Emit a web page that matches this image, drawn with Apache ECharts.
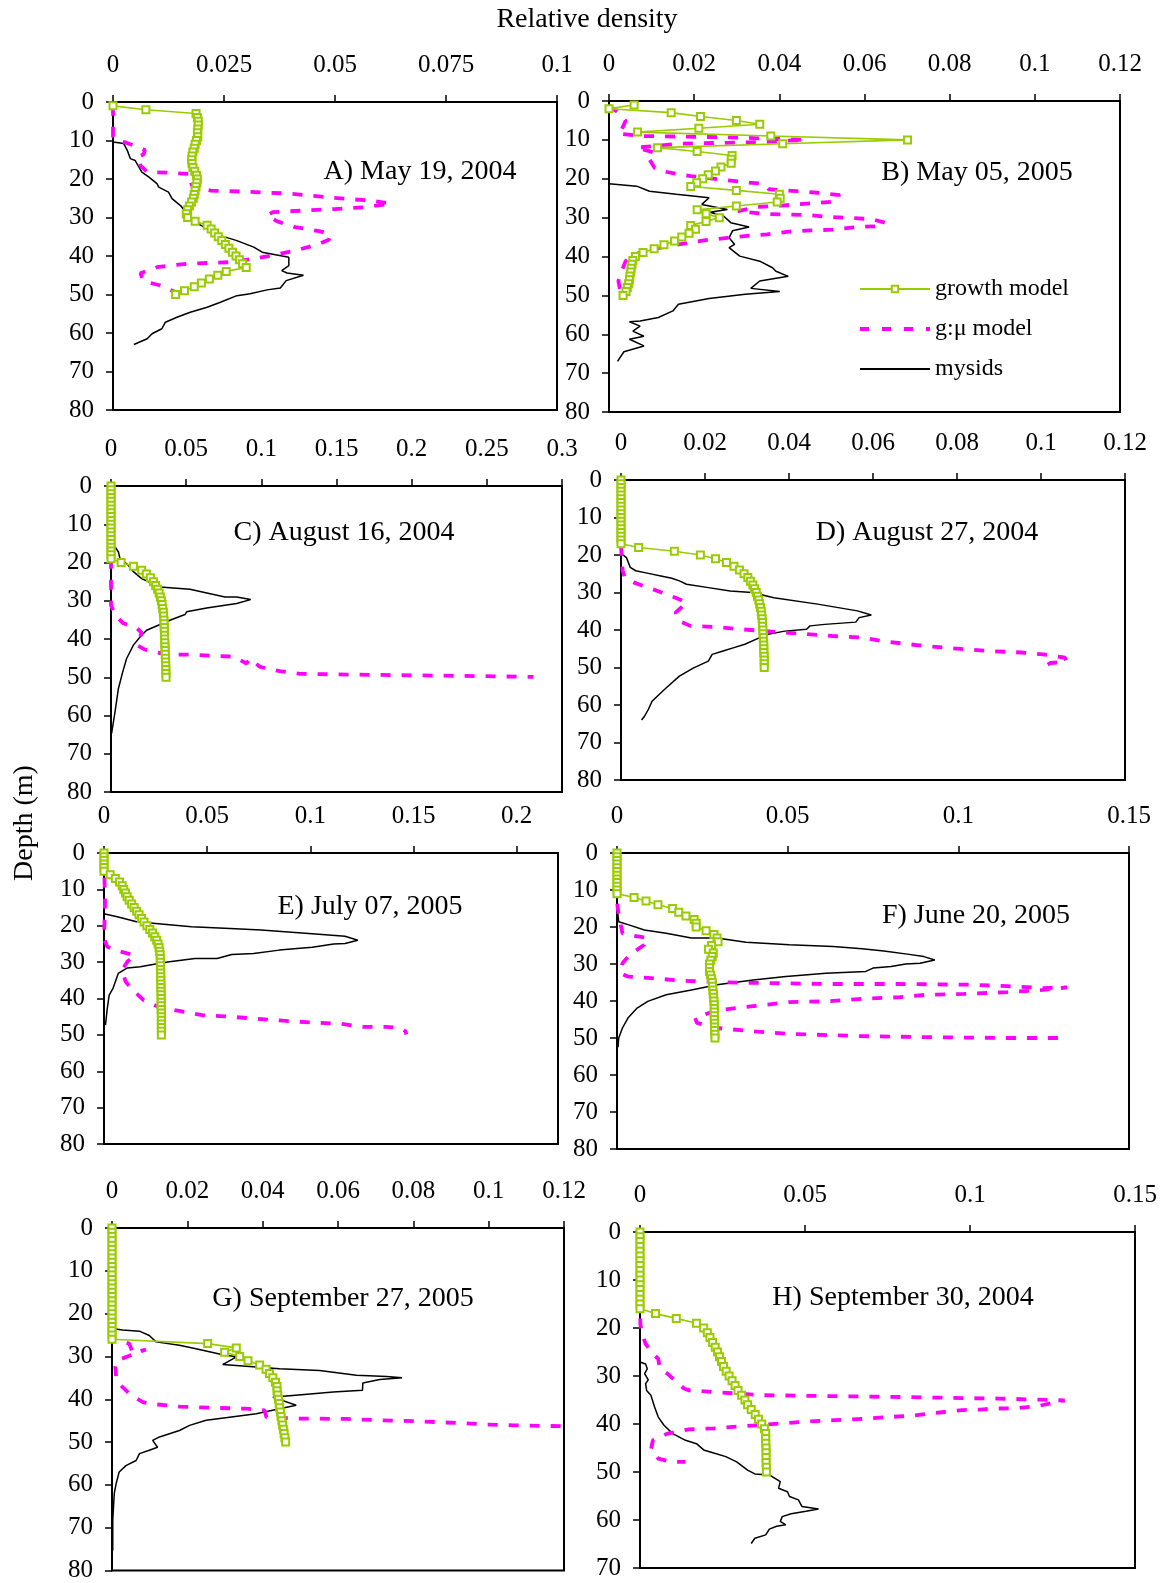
<!DOCTYPE html>
<html>
<head>
<meta charset="utf-8">
<script src="https://cdn.jsdelivr.net/npm/echarts@6/dist/echarts.min.js"></script>
<style>
  html, body { margin: 0; padding: 0; background: #fff; }
  #chart { width: 1165px; height: 1583px; }
</style>
</head>
<body>
<div id="chart"></div>
<script>
// depths (m) of the growth model points
const depth1to50 = [1,2,3,4,5,6,7,8,9,10,11,12,13,14,15,16,17,18,19,20,21,22,23,24,25,26,27,28,29,30,31,32,33,34,35,36,37,38,39,40,41,42,43,44,45,46,47,48,49,50];
const depth0to50 = [0,1,2,3,4,5,6,7,8,9,10,11,12,13,14,15,16,17,18,19,20,21,22,23,24,25,26,27,28,29,30,31,32,33,34,35,36,37,38,39,40,41,42,43,44,45,46,47,48,49,50];

// growth model, relative density per depth
const growthA = [0,.0074,.0187,.019,.0192,.0192,.0191,.019,.0191,.0188,
  .0185,.0183,.018,.0178,.0177,.0178,.018,.0184,.0188,.019,
  .0189,.0187,.0185,.0183,.0181,.0177,.0172,.0168,.0165,.0168,
  .0185,.0212,.0221,.0229,.0237,.0245,.0253,.0261,.0269,.0277,
  .0285,.0292,.030,.0255,.0236,.0217,.0199,.0183,.0161,.0141];
const growthB = [.0059,0,.0146,.0215,.0299,.0354,.0211,.0067,.038,.0701,
  .0408,.0114,.0207,.0289,.0287,.0287,.0263,.025,.0233,.022,
  .0206,.0192,.0299,.04,.0402,.0395,.0299,.0207,.0228,.0259,
  .0228,.0192,.0203,.0188,.0171,.0154,.0129,.0106,.008,.0062,
  .0056,.0054,.0052,.0051,.0049,.0048,.0046,.0043,.004,.0033];
const growthC = [0,0,0,0,0,0,0,0,0,0, 0,0,0,0,0,0,0,0,0,0,
  .0067,.0149,.0204,.0235,.0262,.0282,.0297,.031,.032,.0328,
  .0335,.034,.0344,.0348,.035,.0352,.0353,.0354,.0355,.0356,
  .0357,.0358,.0359,.036,.0361,.0362,.0363,.0364,.0365,.0365, .0366];
const growthD = [0,0,0,0,0,0,0,0,0,0, 0,0,0,0,0,0,0,0,.0042,.0127,
  .0189,.0225,.0251,.0269,.0282,.0293,.0302,.0308,.0314,.0318,
  .0322,.0325,.0328,.033,.0332,.0334,.0335,.0336,.0337,.0337,
  .0338,.0338,.0339,.0339,.034,.034,.034,.0341,.0341,.0341, .0341];
const growthE = [0,0,0,0,0,0,.003,.0055,.0075,.0088,
  .0096,.0104,.0112,.0122,.0134,.0146,.0158,.017,.0182,.0194,
  .0208,.0222,.0235,.0246,.0255,.0262,.0267,.027,.0272,.0273,
  .0273,.0274,.0274,.0275,.0275,.0275,.0276,.0276,.0276,.0277,
  .0277,.0277,.0277,.0277,.0278,.0278,.0278,.0278,.0278,.0278, .0278];
const growthF = [0,0,0,0,0,0,0,0,0,0,
  0,0,.005,.0085,.012,.0163,.0181,.0202,.0226,.0232,
  .0232,.0261,.0284,.0293,.0296,.0277,.0268,.0282,.0279,.0275,
  .0271,.0271,.0271,.0274,.0277,.0279,.028,.0281,.0282,.0283,
  .0284,.0285,.0285,.0285,.0285,.0285,.0286,.0286,.0286,.0287, .0287];
const growthG = [0,0,0,0,0,0,0,0,0,0, 0,0,0,0,0,0,0,0,0,0,
  0,0,0,0,0,0,0,.0254,.033,.0299,
  .0339,.0361,.0392,.0409,.0418,.0427,.0434,.0438,.0438,.044,
  .0442,.0444,.0445,.0447,.0449,.0451,.0453,.0455,.0457,.0459, .0461];
const growthH = [0,0,0,0,0,0,0,0,0,0,
  0,0,0,0,0,0,0,.0047,.011,.0171,
  .0193,.0204,.0212,.022,.0228,.0235,.0241,.0247,.0253,.0261,
  .027,.0279,.0288,.0297,.0308,.0318,.0326,.0337,.0349,.0359,
  .0369,.0377,.0381,.0381,.0381,.0382,.0382,.0382,.0382,.0383, .0383];

// g:mu model, [relative density, depth]
const gmuA = [[0,1],[0,5],[0,9],[0.0015,10],[0.0045,11.2],[0.0072,12.5],[0.0069,13.6],[0.0055,14.4],[0.0062,16.5],[0.0077,18.2],[0.013,18.4],[0.0174,18.7],[0.0174,20.5],[0.018,22.2],[0.022,23],[0.03,23.3],[0.04,23.8],[0.047,24.6],[0.053,25.2],[0.058,25.6],[0.0625,26.4],[0.057,27.3],[0.05,27.8],[0.043,28.2],[0.036,28.6],[0.0347,29.5],[0.037,31],[0.041,32.5],[0.0467,33.6],[0.049,34.4],[0.0486,35.8],[0.046,37],[0.0414,38.5],[0.0377,39.4],[0.0324,40.6],[0.0264,41.6],[0.0167,42],[0.0099,42.9],[0.0062,44.5],[0.0068,46.5],[0.0105,47.6],[0.0143,49.5]];
const gmuB = [[0,1.3],[0.0022,3],[0.0039,5.1],[0.003,7.3],[0.0022,8.4],[0.0073,9],[0.02,9.2],[0.03,9.4],[0.0354,9.6],[0.046,10],[0.035,10.6],[0.025,10.8],[0.0167,11],[0.0065,12],[0.0107,13.3],[0.0095,15],[0.0107,17.2],[0.0133,18.2],[0.0167,18.9],[0.0192,19.3],[0.0278,20.4],[0.0329,21],[0.0363,21.3],[0.0375,22.7],[0.044,23.2],[0.049,23.6],[0.0542,24.2],[0.0525,25.9],[0.0465,26.4],[0.0405,26.9],[0.0354,27.2],[0.0303,28.3],[0.0359,29],[0.0405,29.2],[0.0465,29.3],[0.0516,29.8],[0.0618,30.4],[0.0648,31.3],[0.0635,32.2],[0.0584,32.4],[0.0525,33.1],[0.0474,33.3],[0.0422,33.6],[0.0371,34.3],[0.0324,34.7],[0.0278,35.2],[0.0227,35.8],[0.0192,36.4],[0.0141,37.3],[0.0107,38],[0.0082,38.6],[0.006,39.5],[0.0039,41.2],[0.003,43.7],[0.0022,46.3],[0.0026,48.5],[0.003,49.7]];
const gmuC = [[0,19],[0,31.2],[0.0027,33.8],[0.0082,35.9],[0.0171,37.1],[0.0204,38.4],[0.0171,41.6],[0.0226,42.8],[0.037,44.1],[0.0525,44.1],[0.068,44.4],[0.0814,44.6],[0.0902,46.4],[0.0925,45.1],[0.0991,47.3],[0.1124,48.4],[0.1257,49.1],[0.1568,49.3],[0.2011,49.5],[0.2455,49.7],[0.281,49.9]];
const gmuD = [[0,17.5],[0.0004,24.2],[0.0009,26],[0.003,27.3],[0.0052,28.2],[0.0087,29.6],[0.013,31.4],[0.0156,32.7],[0.013,35.4],[0.0139,37.6],[0.0165,38.9],[0.0225,39.2],[0.0286,39.8],[0.0355,40.4],[0.0433,41],[0.0503,41.6],[0.0572,42],[0.0632,43.1],[0.0702,44],[0.0788,44.9],[0.0875,45.6],[0.0953,46],[0.1005,46.5],[0.1057,47.4],[0.1061,48.5],[0.1022,48.8],[0.1005,50]];
const gmuE = [[0,1],[0.0005,13.5],[0,23.5],[0.0016,25.8],[0.006,26.8],[0.0149,28.1],[0.0113,29.9],[0.0087,32.2],[0.0105,35.4],[0.014,37.7],[0.0193,40.5],[0.0264,42.3],[0.0371,43.5],[0.0477,44.6],[0.0583,44.9],[0.0725,45.5],[0.0867,46.1],[0.1009,46.6],[0.1151,47],[0.1257,47.8],[0.1363,47.8],[0.1434,48],[0.1461,49],[0.1465,49.9]];
const gmuF = [[0,2.4],[0,13.2],[0.0005,16.8],[0.0011,19.5],[0.0016,21.7],[0.0027,22],[0.009,23],[0.008,24.8],[0.0037,27.5],[0.0016,29.8],[0.0011,32.5],[0.0032,33.4],[0.0101,33.8],[0.0186,34.5],[0.0293,34.9],[0.0399,35.1],[0.0612,35.4],[0.0824,35.4],[0.1037,35.6],[0.1144,36],[0.125,36.5],[0.1319,36.3],[0.125,37],[0.1144,37.6],[0.1016,38.1],[0.091,38.3],[0.0824,39],[0.0718,39.4],[0.0612,40.1],[0.0505,40.3],[0.0399,41.4],[0.0314,42.3],[0.0271,43.2],[0.0229,44.6],[0.0234,45.9],[0.0293,47.3],[0.0399,48.2],[0.0505,48.9],[0.0718,49.5],[0.0931,49.8],[0.1144,50],[0.1293,50]];
const gmuG = [[0,0],[0,25.9],[0.0046,27],[0.0055,29.2],[0.009,28.4],[0.0015,30.9],[0.0009,32.5],[0.0011,34.8],[0.0019,36.4],[0.0046,38.7],[0.0082,40.7],[0.0117,41.2],[0.0179,41.7],[0.0268,42],[0.0356,42.2],[0.0405,42.6],[0.041,44.2],[0.0489,44.5],[0.0622,44.6],[0.0711,44.9],[0.08,45.1],[0.0932,45.6],[0.0994,45.9],[0.1065,46.1],[0.12,46.3]];
const gmuH = [[0,0.5],[0.0001,19.2],[0.0006,21.2],[0.0017,23.3],[0.0039,25.4],[0.0055,26.4],[0.0061,28.5],[0.0083,29.5],[0.0105,30.9],[0.0133,32.6],[0.0149,33],[0.026,33.5],[0.037,34],[0.0591,34.2],[0.0812,34.4],[0.0978,34.6],[0.1088,34.7],[0.1199,34.9],[0.1287,35.1],[0.1265,35.4],[0.121,36.2],[0.1143,36.7],[0.1066,36.8],[0.1033,37],[0.0978,37.1],[0.0922,37.5],[0.0834,38.2],[0.0768,38.5],[0.0679,38.9],[0.0591,39.2],[0.0481,39.6],[0.037,40.2],[0.0282,40.6],[0.0226,40.9],[0.0149,41.1],[0.0083,42],[0.0039,43.4],[0.0033,45.4],[0.0055,47.2],[0.0094,47.9],[0.0138,47.9]];

// mysids, [relative density, depth]
const mysA = [[0,0],[0,10.4],[0.0024,10.8],[0.0032,12.5],[0.0039,14.7],[0.005,15.2],[0.0065,18.2],[0.0081,19.5],[0.0099,21.2],[0.0103,22.1],[0.0125,23.4],[0.0133,25.1],[0.0152,26.9],[0.0167,29],[0.0197,32],[0.0242,34.7],[0.0279,36],[0.0317,37.7],[0.0336,39],[0.0396,40.3],[0.0396,42.5],[0.038,43.8],[0.0392,44.4],[0.0429,45],[0.039,46.4],[0.0377,48.3],[0.0347,48.8],[0.0309,49.8],[0.0279,50.3],[0.0242,52],[0.0212,53.3],[0.0174,54.6],[0.0144,55.9],[0.0118,57.2],[0.011,58.9],[0.0088,60.2],[0.0077,61.5],[0.0047,63]];
const mysB = [[0,21.3],[0.0065,21.9],[0.0095,23.2],[0.0158,24],[0.0235,24.9],[0.0218,26.6],[0.0278,27.9],[0.0237,28.6],[0.0269,29.6],[0.0286,31.3],[0.0329,32.4],[0.029,33.4],[0.0282,35.2],[0.0295,36.9],[0.0282,37.7],[0.0307,39.9],[0.0354,41.2],[0.0384,42.9],[0.0392,43.8],[0.0421,45.1],[0.0354,46.3],[0.0333,48.2],[0.0401,49],[0.032,49.7],[0.0235,50.8],[0.0163,52.3],[0.015,54],[0.0116,55.7],[0.0073,56.6],[0.0048,56.8],[0.0073,57.9],[0.0056,59.2],[0.0082,60.5],[0.0048,61.3],[0.0082,63],[0.0035,64.5],[0.002,67]];
const mysC = [[0.0004,15.4],[0.0027,15.9],[0.0049,17.2],[0.006,19],[0.0115,20.7],[0.0149,22.4],[0.0204,24.2],[0.0326,26.4],[0.0525,27],[0.0758,29],[0.0836,29],[0.0929,29.7],[0.0836,30.7],[0.0636,31.9],[0.0503,32.9],[0.0492,33.6],[0.0392,35.1],[0.0326,36.2],[0.0237,37.7],[0.0193,39.5],[0.0149,41.6],[0.0104,45.1],[0.0078,48.6],[0.0049,53],[0.0027,59],[0.0004,64.7]];
const mysD = [[0,19.6],[0.0013,20.7],[0.0022,23.3],[0.0035,24.2],[0.0065,24.9],[0.0095,25.6],[0.0121,26.2],[0.0139,26.9],[0.0156,27.8],[0.0208,28.7],[0.026,29.6],[0.0312,30],[0.0364,31.4],[0.0468,33.1],[0.0563,34.9],[0.0596,36],[0.0567,36.7],[0.0559,37.9],[0.0485,38.5],[0.045,38.9],[0.0442,39.8],[0.039,40.3],[0.0347,41.2],[0.0321,42.5],[0.0295,43.8],[0.0269,44.7],[0.0243,45.6],[0.0217,46.5],[0.0208,48.3],[0.0173,50.1],[0.0139,52.3],[0.0108,55.4],[0.0087,57.6],[0.0074,59],[0.0065,61.2],[0.0056,63],[0.0049,64]];
const mysE = [[0,16.7],[0.0069,17.6],[0.0158,18.9],[0.0317,19.7],[0.0424,20.3],[0.0637,20.8],[0.0761,21.2],[0.1009,22.2],[0.1168,22.9],[0.123,24],[0.1168,24.9],[0.1113,25],[0.1009,25.9],[0.0849,26.7],[0.0725,27.6],[0.0619,27.9],[0.0548,29],[0.0441,29],[0.0317,29.9],[0.0229,30.7],[0.0176,31.3],[0.0113,31.6],[0.0069,33.1],[0.0043,37.3],[0.0025,39.1],[0.0016,42.7],[0.0007,47.3]];
const mysF = [[0,14.5],[0.0005,18.6],[0.0037,19.5],[0.008,20.8],[0.0144,21.7],[0.0218,23],[0.0293,23],[0.0378,24.1],[0.0505,24.8],[0.0633,25.3],[0.0718,25.9],[0.0782,26.5],[0.0856,27.4],[0.0899,28],[0.0931,28.9],[0.0888,29.8],[0.0846,30],[0.0803,30.7],[0.075,31.1],[0.0729,32],[0.0612,32.5],[0.0495,33.4],[0.0399,34.3],[0.0293,35.6],[0.0218,37],[0.0144,38.3],[0.009,40.1],[0.0059,41.9],[0.0032,44.6],[0.0016,47.3],[0.0005,50],[0.0003,52.5]];
const mysG = [[0,23.5],[0.0028,23.8],[0.0073,24.1],[0.0099,25.1],[0.0117,26.6],[0.0179,27.4],[0.0223,28.2],[0.0294,29.6],[0.033,30.1],[0.0294,31.9],[0.0356,32.3],[0.0445,32.9],[0.0551,33.3],[0.0649,34.4],[0.0729,34.7],[0.077,35],[0.0711,35.4],[0.0666,36.2],[0.0665,37.9],[0.0587,38.3],[0.048,39.1],[0.0427,39.5],[0.0489,41.4],[0.0445,42.2],[0.0383,43.4],[0.0312,44.2],[0.025,44.9],[0.0206,46.1],[0.0179,47.3],[0.0126,48.8],[0.0108,49.6],[0.0121,51.2],[0.0099,51.9],[0.0073,52.7],[0.0064,54.3],[0.0037,55.5],[0.0019,57],[0.0011,59.7],[0.0006,62],[0.0002,68.3],[0.0002,75.3]];
const mysH = [[0,19.8],[0,27.1],[0.0017,27.5],[0.0022,28.5],[0.0014,29.5],[0.0025,30.8],[0.0017,31.6],[0.002,33],[0.0033,34],[0.0044,36.4],[0.0055,38.5],[0.0072,40.2],[0.0099,42],[0.0138,43.4],[0.0171,44.1],[0.0193,45.4],[0.0226,46.1],[0.026,46.8],[0.0293,47.9],[0.0326,49.6],[0.0348,50.4],[0.0392,50.6],[0.0425,52],[0.042,53.4],[0.0447,54.1],[0.0453,55.1],[0.048,55.8],[0.0491,57.2],[0.0541,57.7],[0.0547,58],[0.0503,58.2],[0.0458,58.7],[0.0431,59.3],[0.0425,60.3],[0.0442,61],[0.0414,61.3],[0.0392,61.9],[0.0381,63.1],[0.0348,63.8],[0.0337,64.9]];

const panelTitles = ['A) May 19, 2004', 'B) May 05, 2005', 'C) August 16, 2004', 'D) August 27, 2004',
  'E) July 07, 2005', 'F) June 20, 2005', 'G) September 27, 2005', 'H) September 30, 2004'];
const xMaxes = [0.1, 0.12, 0.3, 0.12, 0.22, 0.15, 0.12, 0.15];
const xSteps = [0.025, 0.02, 0.05, 0.02, 0.05, 0.05, 0.02, 0.05];
const yMaxes = [80, 80, 80, 80, 80, 80, 80, 70];

const growthSets = [
  [growthA, depth1to50], [growthB, depth1to50], [growthC, depth0to50], [growthD, depth0to50],
  [growthE, depth0to50], [growthF, depth0to50], [growthG, depth0to50], [growthH, depth0to50]
];
const gmuSets = [gmuA, gmuB, gmuC, gmuD, gmuE, gmuF, gmuG, gmuH];
const mysSets = [mysA, mysB, mysC, mysD, mysE, mysF, mysG, mysH];

// layout (pixels) for each panel
const layout = [
  {left: 113, top: 102, width: 444, height: 308, tx: 420, ty: 172},
  {left: 609, top: 101, width: 511, height: 311, tx: 977, ty: 173},
  {left: 111, top: 486, width: 451, height: 306, tx: 344, ty: 533},
  {left: 621, top: 480, width: 504, height: 300, tx: 927, ty: 533},
  {left: 104, top: 853, width: 454, height: 291, tx: 370, ty: 907},
  {left: 617, top: 853, width: 512, height: 296, tx: 976, ty: 916},
  {left: 112, top: 1228, width: 452, height: 343, tx: 343, ty: 1299},
  {left: 640, top: 1232, width: 495, height: 336, tx: 903, ty: 1298}
];

const FONT = '"Liberation Serif", "DejaVu Serif", serif';
const GREEN = '#99CC00', PINK = '#FF00FF';

const chart = echarts.init(document.getElementById('chart'), null, {renderer: 'canvas'});

const grids = [], xAxes = [], yAxes = [], series = [], graphics = [];
layout.forEach((p, i) => {
  grids.push({
    left: p.left, top: p.top, width: p.width, height: p.height,
    show: true, borderColor: '#000', borderWidth: 2
  });
  xAxes.push({
    gridIndex: i, type: 'value', position: 'top',
    min: 0, max: xMaxes[i], interval: xSteps[i],
    axisLine: {show: true, lineStyle: {color: '#000', width: 2}},
    axisTick: {show: true, inside: false, length: 7, lineStyle: {color: '#000', width: 1.5}},
    axisLabel: {
      color: '#000', fontFamily: FONT, fontSize: 25, margin: 24,
      showMaxLabel: i !== 4,
      formatter: v => String(+v.toFixed(4))
    },
    splitLine: {show: false}
  });
  yAxes.push({
    gridIndex: i, type: 'value', inverse: true,
    min: 0, max: yMaxes[i], interval: 10,
    axisLine: {show: true, lineStyle: {color: '#000', width: 2}},
    axisTick: {show: true, inside: false, length: 7, lineStyle: {color: '#000', width: 1.5}},
    axisLabel: {color: '#000', fontFamily: FONT, fontSize: 25, margin: 19},
    splitLine: {show: false}
  });

  series.push({
    name: 'mysids', type: 'line', xAxisIndex: i, yAxisIndex: i,
    data: mysSets[i], symbol: 'none', silent: true, z: 2,
    lineStyle: {color: '#000', width: 1.5}, itemStyle: {color: '#000'}
  });
  series.push({
    name: 'g:μ model', type: 'line', xAxisIndex: i, yAxisIndex: i,
    data: gmuSets[i], symbol: 'none', silent: true, z: 3,
    lineStyle: {color: PINK, width: 3.8, type: [10, 11]}, itemStyle: {color: PINK}
  });
  const [vals, depths] = growthSets[i];
  series.push({
    name: 'growth model', type: 'line', xAxisIndex: i, yAxisIndex: i,
    data: vals.map((v, k) => [v, depths[k]]),
    symbol: 'emptyRect', symbolSize: 7, showSymbol: true, silent: true, z: 4,
    lineStyle: {color: GREEN, width: 1.6}, itemStyle: {color: GREEN, borderWidth: 1.6}
  });

  graphics.push({
    type: 'text', x: p.tx, y: p.ty, silent: true,
    style: {text: panelTitles[i], fontFamily: FONT, fontSize: 28, fill: '#000', align: 'center', verticalAlign: 'middle'}
  });
});

graphics.push({
  type: 'text', x: 587, y: 20, silent: true,
  style: {text: 'Relative density', fontFamily: FONT, fontSize: 28, fill: '#000', align: 'center', verticalAlign: 'middle'}
});
graphics.push({
  type: 'text', x: 25, y: 823, rotation: Math.PI / 2, silent: true,
  style: {text: 'Depth (m)', fontFamily: FONT, fontSize: 28, fill: '#000', align: 'center', verticalAlign: 'middle'}
});

chart.setOption({
  animation: false,
  backgroundColor: '#fff',
  grid: grids,
  xAxis: xAxes,
  yAxis: yAxes,
  legend: {
    data: [
      {name: 'growth model', lineStyle: {width: 2}},
      {name: 'g:μ model', itemStyle: {opacity: 0}, lineStyle: {width: 4, type: [9, 13]}},
      {name: 'mysids', itemStyle: {opacity: 0}, lineStyle: {width: 2}}
    ],
    orient: 'vertical', left: 858, top: 277, padding: 0,
    itemWidth: 70, itemHeight: 8, itemGap: 16, selectedMode: false,
    textStyle: {color: '#000', fontFamily: FONT, fontSize: 24}
  },
  graphic: graphics,
  series: series
});
</script>
</body>
</html>
